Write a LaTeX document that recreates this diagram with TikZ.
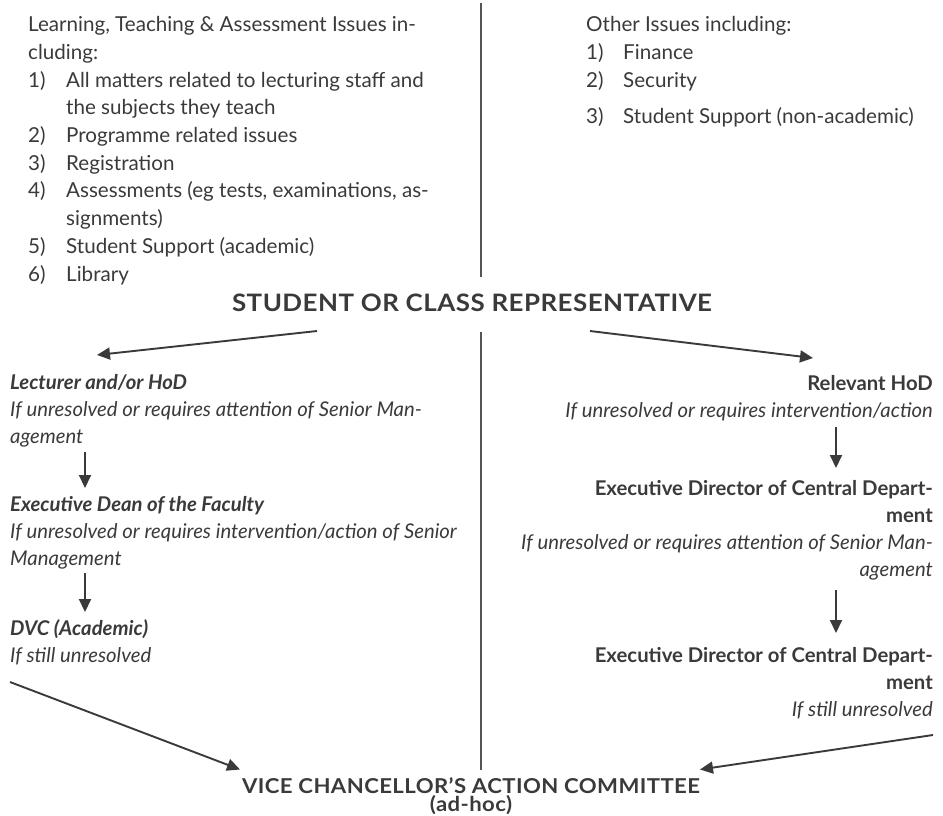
\documentclass[tikz,border=0pt]{standalone}
\usepackage{fontspec}
\setmainfont{Lato}
\newfontface\headface{Lato Bold}[FakeStretch=1.08,LetterSpace=2]
\usetikzlibrary{arrows.meta,calc}
\definecolor{inkgray}{HTML}{3A3A3A}
\definecolor{rulegray}{HTML}{555555}
\begin{document}
\begin{tikzpicture}[x=1pt,y=-1pt,
  every node/.style={inner sep=0pt,text=inkgray},
  body/.style={align=left,font=\fontsize{20.6}{27.7}\selectfont},
  flowl/.style={align=left,font=\fontsize{20.3}{26.8}\selectfont\itshape},
  flowr/.style={align=right,font=\fontsize{20.3}{26.8}\selectfont\itshape},
  head/.style={font=\fontsize{24}{26}\headface},
  flow/.style={draw=inkgray,line width=1.9pt,-{Triangle[length=13pt,width=12pt]}},
  divider/.style={draw=rulegray,line width=2.4pt}]
\useasboundingbox (0,0) rectangle (943,815);
%issue lists
\node[body,anchor=base west] (acad) at (28,281) {Learning, Teaching \& Assessment Issues in-\\
cluding:\\
\makebox[38pt][l]{1)}All matters related to lecturing staff and\\
\hspace*{38pt}the subjects they teach\\
\makebox[38pt][l]{2)}Programme related issues\\
\makebox[38pt][l]{3)}Registration\\
\makebox[38pt][l]{4)}Assessments (eg tests, examinations, as-\\
\hspace*{38pt}signments)\\
\makebox[38pt][l]{5)}Student Support (academic)\\
\makebox[38pt][l]{6)}Library};
\node[body,anchor=base west] (other) at (586,123) {Other Issues including:\\
\makebox[37pt][l]{1)}Finance\\
\makebox[37pt][l]{2)}Security\\[8pt]
\makebox[37pt][l]{3)}Student Support (non-academic)};
\draw[divider] (481,3) -- (481,277);
\draw[divider] (481,332) -- (481,770);
\node[head,anchor=base] (rep) at (472,311) {STUDENT OR CLASS REPRESENTATIVE};
%academic route
\node[flowl,anchor=base west] (lec) at (10,443) {{\bfseries Lecturer and/or HoD}\\
If unresolved or requires attention of Senior Man-\\
agement};
\node[flowl,anchor=base west] (dean) at (10,565) {{\bfseries Executive Dean of the Faculty}\\
If unresolved or requires intervention/action of Senior\\
Management};
\node[flowl,anchor=base west] (dvc) at (10,662) {{\bfseries DVC (Academic)}\\
If still unresolved};
%other route
\node[flowr,anchor=base east] (hod) at (933,417) {{\bfseries\upshape Relevant HoD}\\
If unresolved or requires intervention/action};
\node[flowr,anchor=base east] (edc) at (933,576) {{\bfseries\upshape Executive Director of Central Depart-}\\
{\bfseries\upshape ment}\\
If unresolved or requires attention of Senior Man-\\
agement};
\node[flowr,anchor=base east] (edcb) at (933,716) {{\bfseries\upshape Executive Director of Central Depart-}\\
{\bfseries\upshape ment}\\
If still unresolved};
\node[head,font=\fontsize{20.5}{18.5}\headface,align=center,anchor=base] (vcac) at (471,811.5) {VICE CHANCELLOR’S ACTION COMMITTEE\\(ad-hoc)};
\draw[flow] ($(rep.base)+(-155,20)$) -- ($(lec.base west)+(87,-88)$);
\draw[flow] ($(rep.base)+(118,20)$) -- ($(hod.base east)+(-120,-59)$);
\draw[flow] ($(lec.base west)+(75,9)$) -- ($(dean.base west)+(75,-77)$);
\draw[flow] ($(dean.base west)+(75,8)$) -- ($(dvc.base west)+(75,-50)$);
\draw[flow] ($(hod.base east)+(-97,10)$) -- ($(edc.base east)+(-97,-108)$);
\draw[flow] ($(edc.base east)+(-97,14)$) -- ($(edcb.base east)+(-97,-83)$);
\draw[flow] ($(dvc.base west)+(0,20)$) -- ($(vcac.base)+(-231,-42)$);
\draw[flow] ($(edcb.base east)+(0,19)$) -- ($(vcac.base)+(229,-42)$);
\end{tikzpicture}
\end{document}
